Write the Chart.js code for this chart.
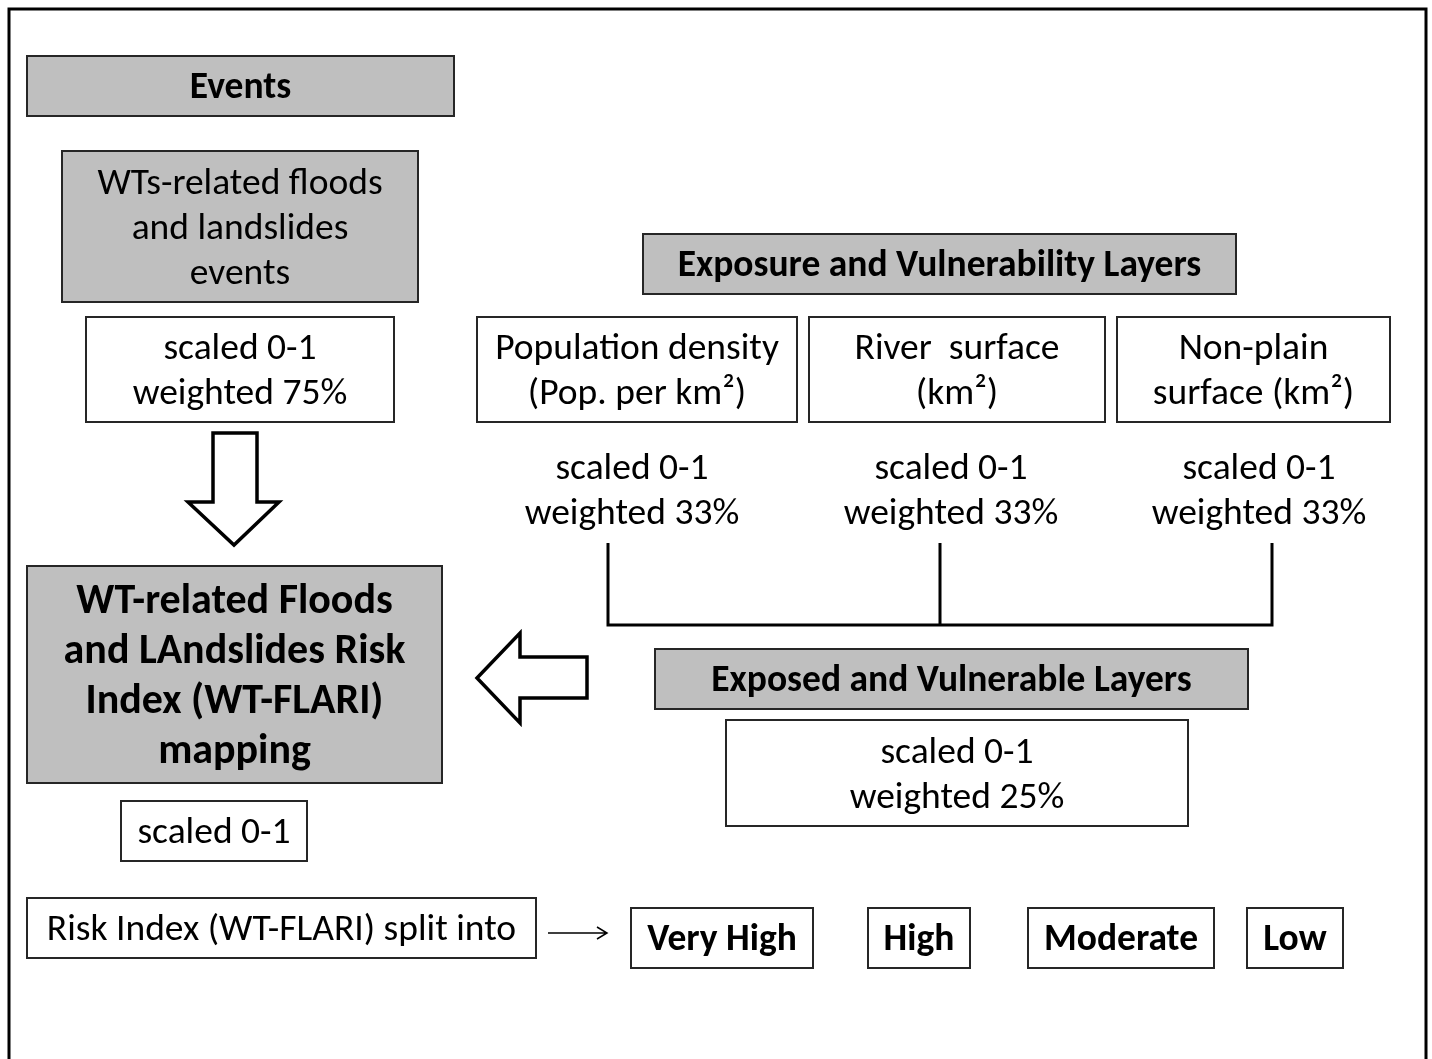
<!DOCTYPE html>
<html>
<head>
<meta charset="utf-8">
<script src="https://cdn.jsdelivr.net/npm/chart.js@4/dist/chart.umd.min.js"></script>
<style>
html,body{margin:0;padding:0;background:#fff;}
canvas{display:block;}
</style>
</head>
<body>
<canvas id="c" width="1432" height="1059"></canvas>
<script>
// ---- content (texts) ----
const eventsTitle = ["Events"];
const eventsBox = ["WTs-related floods", "and landslides", "events"];
const eventsWeight = ["scaled 0-1", "weighted 75%"];
const layersTitle = ["Exposure and Vulnerability Layers"];
const layerNames = [
  ["Population density", "(Pop. per km²)"],
  ["River  surface", "(km²)"],
  ["Non-plain", "surface (km²)"]
];
const layerWeights = [
  ["scaled 0-1", "weighted 33%"],
  ["scaled 0-1", "weighted 33%"],
  ["scaled 0-1", "weighted 33%"]
];
const exposedTitle = ["Exposed and Vulnerable Layers"];
const exposedWeight = ["scaled 0-1", "weighted 25%"];
const indexTitle = ["WT-related Floods", "and LAndslides Risk", "Index (WT-FLARI)", "mapping"];
const indexScale = ["scaled 0-1"];
const splitLabel = ["Risk Index (WT-FLARI) split into"];
const riskClasses = ["Very High", "High", "Moderate", "Low"];

// ---- layout (diagram coordinates, px of the 1432x1059 frame) ----
const FONT = "Carlito, Lato, 'Open Sans', sans-serif";
const GRAY = "#bfbfbf";
const REG = 37.5, BOLD = 37.5, BIG = 42;
const layout = {
  frame: {x0: 9, y0: 9, x1: 1426, y1: 1070},
  eventsTitle: {x0: 27, y0: 56, x1: 454, y1: 116, fill: GRAY, bold: true, size: BOLD, lh: 45},
  eventsBox: {x0: 62, y0: 151, x1: 418, y1: 302, fill: GRAY, bold: false, size: REG, lh: 45},
  eventsWeight: {x0: 86, y0: 317, x1: 394, y1: 422, fill: "#fff", bold: false, size: REG, lh: 45},
  layersTitle: {x0: 643, y0: 234, x1: 1236, y1: 294, fill: GRAY, bold: true, size: BOLD, lh: 45},
  layerBoxes: [
    {x0: 477, y0: 317, x1: 797, y1: 422},
    {x0: 809, y0: 317, x1: 1105, y1: 422},
    {x0: 1117, y0: 317, x1: 1390, y1: 422}
  ],
  layerWeightCx: [632, 951, 1259],
  layerWeightCy: 489,
  bracket: {xs: [608, 940, 1272], yTop: 543, yBottom: 625},
  exposedTitle: {x0: 655, y0: 649, x1: 1248, y1: 709, fill: GRAY, bold: true, size: BOLD, lh: 45},
  exposedWeight: {x0: 726, y0: 720, x1: 1188, y1: 826, fill: "#fff", bold: false, size: REG, lh: 45},
  indexTitle: {x0: 27, y0: 566, x1: 442, y1: 783, fill: GRAY, bold: true, size: BIG, lh: 50},
  indexScale: {x0: 121, y0: 801, x1: 307, y1: 861, fill: "#fff", bold: false, size: REG, lh: 45},
  splitLabel: {x0: 27, y0: 898, x1: 536, y1: 958, fill: "#fff", bold: false, size: REG, lh: 45},
  classBoxes: [
    {x0: 631, y0: 908, x1: 813, y1: 968},
    {x0: 868, y0: 908, x1: 970, y1: 968},
    {x0: 1028, y0: 908, x1: 1214, y1: 968},
    {x0: 1247, y0: 908, x1: 1343, y1: 968}
  ],
  downArrow: [[213,433],[257,433],[257,502],[279,502],[234,545],[188,502],[213,502]],
  leftArrow: [[477,678],[520,633],[520,657],[587,657],[587,698],[520,698],[520,723]],
  smallArrow: {x0: 548, x1: 607, y: 933}
};

const diagramPlugin = {
  id: 'diagram',
  afterDraw(chart) {
    const ctx = chart.ctx;
    const sx = chart.scales.x, sy = chart.scales.y;
    const X = v => sx.getPixelForValue(v);
    const Y = v => sy.getPixelForValue(v);

    function font(bold, size) { return (bold ? "bold " : "") + size + "px " + FONT; }

    function box(b, lines, opt) {
      const x0 = X(b.x0), y0 = Y(b.y0), x1 = X(b.x1), y1 = Y(b.y1);
      ctx.save();
      ctx.fillStyle = opt.fill || "#fff";
      ctx.fillRect(x0, y0, x1 - x0, y1 - y0);
      ctx.lineWidth = 2;
      ctx.strokeStyle = "#262626";
      ctx.strokeRect(x0, y0, x1 - x0, y1 - y0);
      ctx.restore();
      text((x0 + x1) / 2, (y0 + y1) / 2, lines, opt);
    }
    function text(cx, cy, lines, opt) {
      ctx.save();
      ctx.fillStyle = "#000";
      ctx.font = font(opt.bold, opt.size);
      ctx.textAlign = "center";
      ctx.textBaseline = "middle";
      const lh = opt.lh;
      const start = cy - (lines.length - 1) * lh / 2;
      lines.forEach((l, i) => ctx.fillText(l, cx, start + i * lh + 3));
      ctx.restore();
    }
    function poly(pts) {
      ctx.save();
      ctx.beginPath();
      pts.forEach((p, i) => i ? ctx.lineTo(X(p[0]), Y(p[1])) : ctx.moveTo(X(p[0]), Y(p[1])));
      ctx.closePath();
      ctx.fillStyle = "#fff";
      ctx.fill();
      ctx.lineWidth = 3.5;
      ctx.lineJoin = "miter";
      ctx.strokeStyle = "#000";
      ctx.stroke();
      ctx.restore();
    }

    // frame
    const f = layout.frame;
    ctx.save();
    ctx.lineWidth = 3;
    ctx.strokeStyle = "#000";
    ctx.strokeRect(X(f.x0), Y(f.y0), X(f.x1) - X(f.x0), Y(f.y1) - Y(f.y0));
    ctx.restore();

    box(layout.eventsTitle, eventsTitle, layout.eventsTitle);
    box(layout.eventsBox, eventsBox, layout.eventsBox);
    box(layout.eventsWeight, eventsWeight, layout.eventsWeight);
    box(layout.layersTitle, layersTitle, layout.layersTitle);
    layout.layerBoxes.forEach((b, i) => box(b, layerNames[i], {fill: "#fff", bold: false, size: REG, lh: 45}));
    layout.layerWeightCx.forEach((cx, i) => text(X(cx), Y(layout.layerWeightCy), layerWeights[i], {bold: false, size: REG, lh: 45}));

    // bracket
    const br = layout.bracket;
    ctx.save();
    ctx.lineWidth = 3;
    ctx.strokeStyle = "#000";
    ctx.beginPath();
    br.xs.forEach(x => { ctx.moveTo(X(x), Y(br.yTop)); ctx.lineTo(X(x), Y(br.yBottom)); });
    ctx.moveTo(X(br.xs[0]) - 1.5, Y(br.yBottom));
    ctx.lineTo(X(br.xs[br.xs.length - 1]) + 1.5, Y(br.yBottom));
    ctx.stroke();
    ctx.restore();

    box(layout.exposedTitle, exposedTitle, layout.exposedTitle);
    box(layout.exposedWeight, exposedWeight, layout.exposedWeight);
    box(layout.indexTitle, indexTitle, layout.indexTitle);
    box(layout.indexScale, indexScale, layout.indexScale);
    box(layout.splitLabel, splitLabel, layout.splitLabel);
    layout.classBoxes.forEach((b, i) => box(b, [riskClasses[i]], {fill: "#fff", bold: true, size: BOLD, lh: 45}));

    poly(layout.downArrow);
    poly(layout.leftArrow);

    // small arrow
    const sa = layout.smallArrow;
    ctx.save();
    ctx.lineWidth = 1.5;
    ctx.strokeStyle = "#000";
    ctx.beginPath();
    ctx.moveTo(X(sa.x0), Y(sa.y));
    ctx.lineTo(X(sa.x1), Y(sa.y));
    ctx.moveTo(X(sa.x1) - 10, Y(sa.y) - 6);
    ctx.lineTo(X(sa.x1), Y(sa.y));
    ctx.lineTo(X(sa.x1) - 10, Y(sa.y) + 6);
    ctx.stroke();
    ctx.restore();
  }
};

new Chart(document.getElementById('c'), {
  type: 'scatter',
  data: { datasets: [{ data: [], showLine: false }] },
  options: {
    responsive: false,
    animation: false,
    events: [],
    layout: { padding: 0 },
    plugins: { legend: { display: false }, tooltip: { enabled: false } },
    scales: {
      x: { type: 'linear', min: 0, max: 1432, display: false },
      y: { type: 'linear', min: 0, max: 1059, reverse: true, display: false }
    }
  },
  plugins: [diagramPlugin]
});
</script>
</body>
</html>
